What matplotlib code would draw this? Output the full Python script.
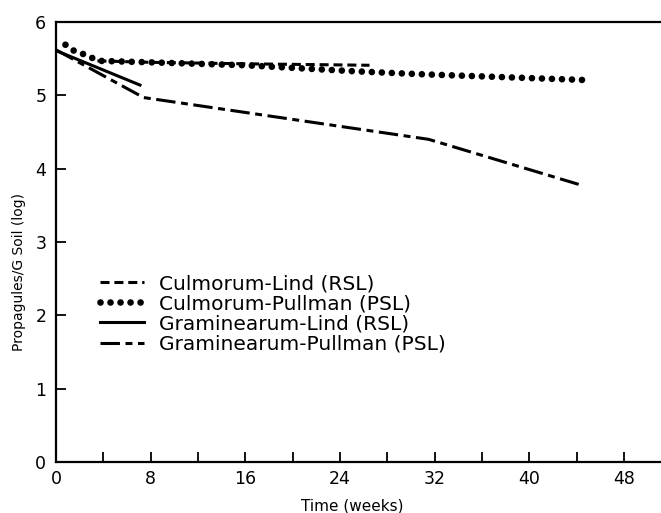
import matplotlib
matplotlib.use('Agg')
import matplotlib.pyplot as plt
import numpy as np

plt.rcParams['font.family'] = 'DejaVu Sans'
plt.rcParams['lines.scale_dashes'] = False

# data (weeks, log propagules / g soil)
culm_lind_wk = [3.5, 8, 16, 26.5]
culm_lind_val = [5.47, 5.45, 5.43, 5.41]

culm_pull_wk = [0.8, 1.5, 2.2, 2.9, 3.7, 8, 16, 25, 30.5, 37.5, 44.5]
culm_pull_val = [5.69, 5.61, 5.57, 5.52, 5.47, 5.45, 5.41, 5.33, 5.29, 5.25, 5.21]

gram_lind_wk = [0, 7.1]
gram_lind_val = [5.61, 5.14]

gram_pull_wk = [0, 7.4, 31.5, 44.3]
gram_pull_val = [5.62, 4.97, 4.40, 3.78]

labels = ['Culmorum-Lind (RSL)', 'Culmorum-Pullman (PSL)',
          'Graminearum-Lind (RSL)', 'Graminearum-Pullman (PSL)']

W, H = 661, 513
fig = plt.figure(figsize=(W / 100, H / 100), dpi=100)
ax = fig.add_axes([56 / W, (H - 462) / H, (W - 56) / W, 440 / H])

ax.plot(culm_lind_wk, culm_lind_val, color='k', lw=2.2,
        linestyle=(0, (6.5, 3.5)), label=labels[0])
ax.plot(culm_pull_wk, culm_pull_val, color='k', lw=4.8,
        linestyle=(0, (0.01, 7.2)), dash_capstyle='round', label=labels[1])
ax.plot(gram_lind_wk, gram_lind_val, color='k', lw=2.2, label=labels[2])
ax.plot(gram_pull_wk, gram_pull_val, color='k', lw=2.2,
        linestyle=(0, (14, 4, 5, 4)), label=labels[3])

ax.set_xlim(0, (W - 56) / 11.83)
ax.set_ylim(0, 6)
ax.set_xticks(np.arange(0, 49, 8))
ax.set_xticks(np.arange(4, 49, 8), minor=True)
ax.set_yticks(np.arange(0, 7, 1))
ax.set_yticklabels(['0', '1', '2', '3', '4', '5', '6'])

ax.tick_params(axis='both', which='both', direction='in', length=7,
               width=1.3, labelsize=12.5)
ax.tick_params(axis='x', pad=6)
ax.tick_params(axis='y', pad=7)

for s in ['left', 'bottom', 'top']:
    ax.spines[s].set_linewidth(1.6)
ax.spines['right'].set_visible(False)

ax.set_xlabel('Time (weeks)', fontsize=11)
ax.set_ylabel('Propagules/G Soil (log)', fontsize=10)
ax.xaxis.set_label_coords(0.49, -0.082)
ax.yaxis.set_label_coords(-0.05, 0.432)

ax.legend(loc='upper left', bbox_to_anchor=((100 - 56) / 605, (462 - 274) / 440),
          frameon=False, fontsize=14.5, handlelength=2.2, handletextpad=0.75,
          labelspacing=0.06, borderpad=0, borderaxespad=0)

plt.savefig('out.png', dpi=100)
